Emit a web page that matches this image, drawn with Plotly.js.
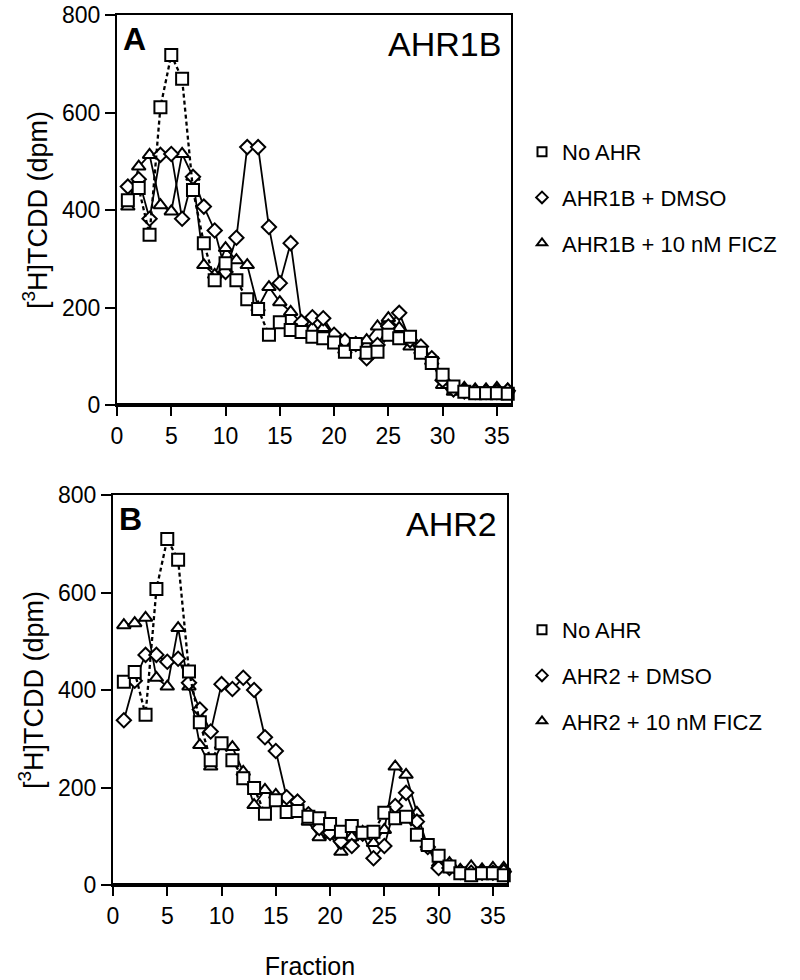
<!DOCTYPE html>
<html>
<head>
<meta charset="utf-8">
<script src="https://cdn.plot.ly/plotly-3.0.1.min.js"></script>
<style>
html, body { margin: 0; padding: 0; background: #fff; }
#chart { width: 800px; height: 980px; }
</style>
</head>
<body>
<div id="chart"></div>
<script>
// Fractions
const fractions = [1,2,3,4,5,6,7,8,9,10,11,12,13,14,15,16,17,18,19,20,21,22,23,24,25,26,27,28,29,30,31,32,33,34,35,36];

// Panel A: AHR1B
const noAHR_A = [420,445,349,611,718,669,441,332,256,291,256,217,197,144,170,154,150,140,137,128,109,125,107,109,144,137,140,107,86,62,38,27,24,24,24,23];
const dmso_A  = [448,463,382,513,515,382,468,407,358,273,343,529,529,365,250,332,170,180,178,144,132,125,96,123,161,189,133,120,96,51,32,28,27,27,27,29];
const ficz_A  = [407,489,513,410,397,515,468,287,267,322,297,287,200,242,211,191,168,158,158,144,113,125,133,161,178,158,120,112,90,41,27,35,32,32,35,32];

// Panel B: AHR2
const noAHR_B = [417,437,349,607,710,667,438,334,256,291,256,219,199,146,174,150,152,140,137,125,109,121,107,109,148,137,140,103,82,60,38,24,20,24,24,20];
const dmso_B  = [338,419,472,472,458,464,415,360,315,412,402,425,400,303,275,180,171,145,117,107,89,80,105,55,80,162,189,130,78,35,35,27,25,25,25,27];
const ficz_B  = [533,537,548,425,407,527,407,287,243,287,283,232,164,195,185,168,160,130,98,103,68,98,109,86,113,243,226,148,78,45,45,31,38,32,35,35];

// Labels
const namesA = ["No AHR", "AHR1B + DMSO", "AHR1B + 10 nM FICZ"];
const namesB = ["No AHR", "AHR2 + DMSO", "AHR2 + 10 nM FICZ"];
const panelLetters = ["A", "B"];
const panelTitles = ["AHR1B", "AHR2"];
const yTickVals = [0, 200, 400, 600, 800];
const xTickVals = [0, 5, 10, 15, 20, 25, 30, 35];
const yTitle = "[<sup>3</sup>H]TCDD (dpm)";
const xTitle = "Fraction";

const FONT = "Liberation Sans, Arial, Helvetica, sans-serif";

const symbols = ["square", "diamond", "triangle-up"];
const sizes = [12, 11, 12];

function dataTraces(series, xa, ya) {
  return series.map((vals, i) => ({
    x: fractions, y: vals, xaxis: xa, yaxis: ya,
    type: "scatter", mode: "lines+markers", showlegend: false,
    cliponaxis: false,
    line: { color: "#000", width: i === 0 ? 2.3 : 1.8, dash: i === 0 ? "4px,3px" : "solid" },
    marker: { symbol: symbols[i], size: sizes[i], color: "#fff",
              line: { color: "#000", width: 2 } }
  }));
}
function legendTraces(names, legendId, xa, ya) {
  return names.map((n, i) => ({
    x: [null], y: [null], xaxis: xa, yaxis: ya, name: n,
    type: "scatter", mode: "markers", legend: legendId, legendgroup: legendId + i,
    marker: { symbol: symbols[i], size: 9, color: "#fff",
              line: { color: "#000", width: 2 } }
  }));
}

// squares drawn last (on top)
const tA = dataTraces([noAHR_A, dmso_A, ficz_A], "x", "y");
const tB = dataTraces([noAHR_B, dmso_B, ficz_B], "x2", "y2");
const traces = [tA[2], tA[1], tA[0], tB[2], tB[1], tB[0]]
  .concat(legendTraces(namesA, "legend", "x", "y"))
  .concat(legendTraces(namesB, "legend2", "x2", "y2"));

const W = 800, H = 980;
const pA = { l: 117, r: 511, t: 15, b: 405 };
const pB = { l: 113, r: 507, t: 495, b: 885 };

function xaxisCfg(p, anchor, withTitle) {
  const c = {
    domain: [p.l / W, p.r / W], anchor: anchor, range: [0, 36.3],
    tickvals: xTickVals, ticks: "outside", ticklen: 9, tickwidth: 2, tickcolor: "#000",
    showline: true, linecolor: "#000", linewidth: 2, mirror: true,
    showgrid: false, zeroline: false, automargin: false,
    tickfont: { family: FONT, size: 23, color: "#000" }
  };
  if (withTitle) c.title = { text: xTitle, font: { family: FONT, size: 25, color: "#000" }, standoff: 32 };
  return c;
}
function yaxisCfg(p, anchor) {
  return {
    domain: [1 - p.b / H, 1 - p.t / H], anchor: anchor, range: [0, 800],
    tickvals: yTickVals, ticks: "outside", ticklen: 10, tickwidth: 2, tickcolor: "#000",
    showline: true, linecolor: "#000", linewidth: 2, mirror: true,
    showgrid: false, zeroline: false, automargin: false,
    tickfont: { family: FONT, size: 23, color: "#000" },
    title: { text: yTitle, font: { family: FONT, size: 27, color: "#000" }, standoff: 7 }
  };
}

function legendCfg(topPx) {
  return {
    x: 522 / W, xanchor: "left", y: 1 - topPx / H, yanchor: "top",
    font: { family: FONT, size: 22, color: "#000" },
    bgcolor: "rgba(0,0,0,0)", borderwidth: 0,
    tracegroupgap: 14, traceorder: "grouped", itemsizing: "trace"
  };
}

const annotations = [];
[pA, pB].forEach((p, k) => {
  annotations.push({
    xref: "paper", yref: "paper", x: (p.l + 4) / W, y: 1 - (p.t + 24) / H,
    xanchor: "left", yanchor: "middle", showarrow: false,
    text: "<b>" + panelLetters[k] + "</b>", font: { family: FONT, size: 32, color: "#000" }
  });
  annotations.push({
    xref: "paper", yref: "paper", x: (p.r - 8) / W, y: 1 - (p.t + 29) / H,
    xanchor: "right", yanchor: "middle", showarrow: false,
    text: panelTitles[k], font: { family: FONT, size: 34, color: "#000" }
  });
});

const shapes = [
  { type: "line", xref: "x domain", yref: "y", x0: 0, x1: 1, y0: 0, y1: 0, line: { color: "#000", width: 4 } },
  { type: "line", xref: "x2 domain", yref: "y2", x0: 0, x1: 1, y0: 0, y1: 0, line: { color: "#000", width: 4 } }
];

const layout = {
  width: W, height: H,
  margin: { l: 0, r: 0, t: 0, b: 0 },
  paper_bgcolor: "#fff", plot_bgcolor: "#fff",
  font: { family: FONT, color: "#000" },
  xaxis: xaxisCfg(pA, "y", false),
  yaxis: yaxisCfg(pA, "x"),
  xaxis2: xaxisCfg(pB, "y2", true),
  yaxis2: yaxisCfg(pB, "x2"),
  legend: legendCfg(131),
  legend2: legendCfg(609),
  annotations: annotations,
  shapes: shapes
};

Plotly.newPlot("chart", traces, layout, { staticPlot: true, displayModeBar: false });
</script>
</body>
</html>
